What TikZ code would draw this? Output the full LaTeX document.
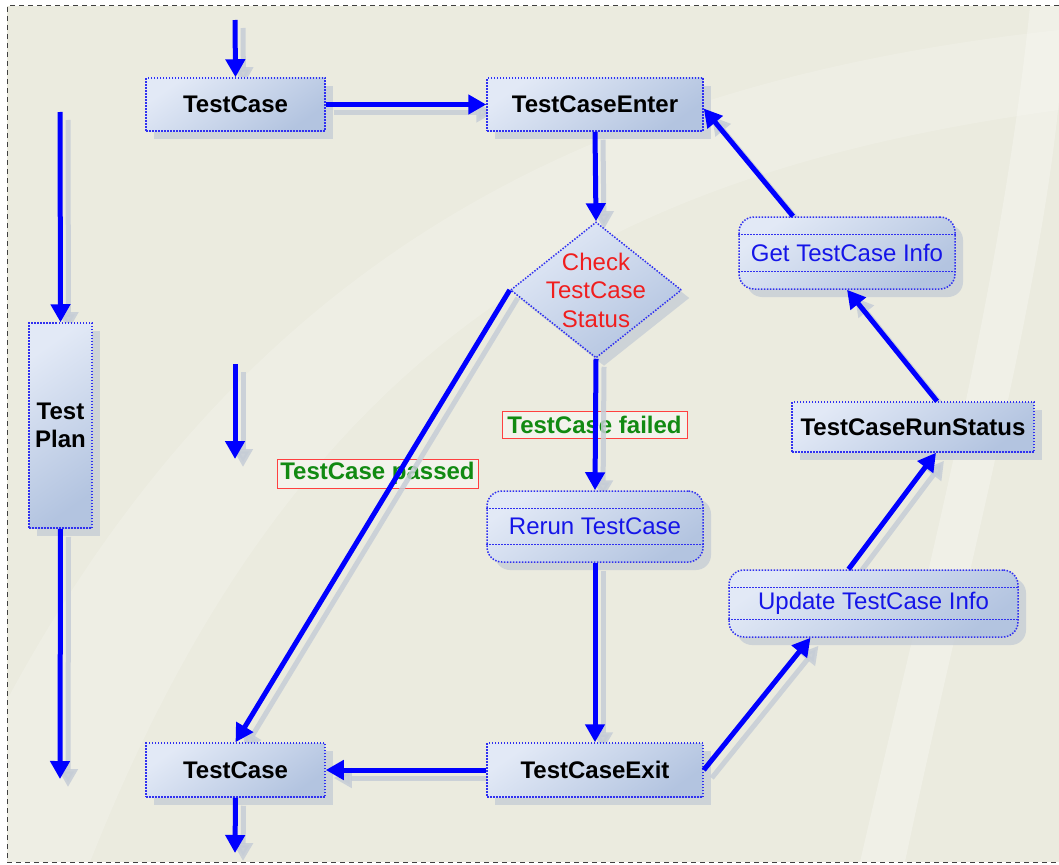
\documentclass[tikz,border=0pt]{standalone}
\usepackage{fontspec}
\setmainfont{Liberation Sans}
\usetikzlibrary{arrows.meta,shapes.geometric,shadows}
\definecolor{bgc}{HTML}{EBEBDF}
\definecolor{nodeA}{HTML}{E2E9F6}
\definecolor{nodeB}{HTML}{B3C4E0}
\definecolor{shc}{HTML}{C6CDD6}
\definecolor{dotc}{HTML}{3030F0}
\definecolor{txtblue}{HTML}{1515E8}
\definecolor{txtgreen}{HTML}{128A12}
\definecolor{txtred}{HTML}{F01E1E}
\definecolor{arrc}{HTML}{0000FF}
\pgfdeclarelayer{back}
\pgfdeclarelayer{lab}
\pgfdeclarelayer{ash}
\pgfsetlayers{back,lab,ash,main}
\tikzset{
  nodebase/.style={draw=dotc, line width=1.5pt, dash pattern=on 1.5pt off 1.5pt,
    shading=axis, top color=nodeA, bottom color=nodeB, shading angle=35,
    general shadow={fill=shc, opacity=0.8, shadow xshift=8pt, shadow yshift=-8pt},
    inner sep=0pt, font=\fontsize{24}{28}\selectfont},
  box/.style={nodebase, rectangle, font=\fontsize{24}{28}\selectfont\bfseries, text=black},
  rbox/.style={nodebase, rectangle, rounded corners=15pt, text=txtblue},
  dia/.style={nodebase, diamond},
  diatext/.style={text=txtred, align=center, font=\fontsize{24}{28.5}\selectfont, inner sep=0pt},
  innerline/.style={draw=dotc, line width=1.3pt, dash pattern=on 1.5pt off 1.5pt},
  lbl/.style={draw=red!75, line width=1pt, fill=bgc!60!white, text=txtgreen,
    font=\fontsize{24}{26}\selectfont\bfseries, inner sep=0pt},
  arr/.style={draw=arrc, line width=5pt, -{Triangle[length=18pt,width=19pt]}},
  arrsh/.style={draw=shc, line width=5pt, opacity=0.85, -{Triangle[length=18pt,width=19pt]}},
}
\begin{document}
\begin{tikzpicture}[x=1pt,y=-1pt]
\useasboundingbox (0,0) rectangle (1059,864);
\begin{pgfonlayer}{back}
  \fill[bgc] (7,6) rectangle (1059,862);
  \fill[white, opacity=0.18] (7,700) .. controls (250,250) and (600,80) .. (1059,30) -- (1059,110) .. controls (620,170) and (300,330) .. (90,862) -- (7,862) -- cycle;
  \fill[white, opacity=0.25] (1030,6) .. controls (1000,300) and (920,600) .. (860,862) -- (905,862) .. controls (960,600) and (1040,300) .. (1059,100) -- (1059,6) -- cycle;
  \draw[black!75, line width=1pt, dash pattern=on 5pt off 4pt] (1059,6) -- (7,6) -- (7,862) -- (1059,862);
\end{pgfonlayer}

% nodes
\node[box, minimum width=179pt, minimum height=53pt] (tc1) at (235.5,104.5) {TestCase};
\node[box, minimum width=216pt, minimum height=53pt] (en) at (595,104.5) {TestCaseEnter};
\node[dia, minimum width=171pt, minimum height=136pt] (chk) at (596,290) {};
\node[diatext] (chkt) at (596,290) {Check\\TestCase\\Status};
\node[rbox, minimum width=216pt, minimum height=72pt] (gi) at (847,253) {Get TestCase Info};
\node[box, minimum width=63pt, minimum height=205pt, align=center] (tp) at (60.5,425.5) {Test\\Plan};
\node[box, minimum width=242pt, minimum height=50pt] (rs) at (913,427) {TestCaseRunStatus};
\node[rbox, minimum width=216pt, minimum height=71pt] (rr) at (595,526.5) {Rerun TestCase};
\node[rbox, minimum width=289pt, minimum height=67pt] (up) at (873.5,603.5) {Update TestCase Info};
\node[box, minimum width=179pt, minimum height=54pt] (tc2) at (235.5,770) {TestCase};
\node[box, minimum width=216pt, minimum height=54pt] (ex) at (595,770) {TestCaseExit};

\foreach \n in {gi,rr,up}{
  \draw[innerline] ([yshift=-18pt]\n.north west) -- ([yshift=-18pt]\n.north east);
  \draw[innerline] ([yshift=18pt]\n.south west) -- ([yshift=18pt]\n.south east);
}

% labels
\begin{pgfonlayer}{lab}
\node[lbl, minimum width=185pt, minimum height=27pt] (lf) at (594.5,424.5) {TestCase failed};
\node[lbl, minimum width=201pt, minimum height=29pt] (lp) at (377.5,473.5) {TestCase passed};
\end{pgfonlayer}

% free ends and attachment points
\coordinate (s1) at (235,20);
\coordinate (s2) at (235,853);
\coordinate (p0) at (60,112);
\coordinate (p1) at (60,779);
\coordinate (q0) at (235,364);
\coordinate (q1) at (235,459);
\coordinate (upS) at ([xshift=-63pt]up.south);
\coordinate (upN) at ([xshift=-25pt]up.north);
\coordinate (rsS) at ([xshift=23pt]rs.south);
\coordinate (rsN) at ([xshift=24pt]rs.north);
\coordinate (giN) at ([xshift=-54pt]gi.north);
\coordinate (enE) at ([yshift=-4pt]en.east);

% arrow shadows
\begin{pgfonlayer}{ash}
\foreach \a/\b in {s1/tc1.north, tc1.east/en.west, en.south/chk.north, chk.south/rr.north,
  rr.south/ex.north, ex.west/tc2.east, tc2.south/s2, p0/tp.north, tp.south/p1, q0/q1,
  chk.west/tc2.north, ex.east/upS, upN/rsS, rsN/gi.south, giN/enE}{
  \draw[arrsh, transform canvas={shift={(8pt,-8pt)}}] (\a) -- (\b);
}
\end{pgfonlayer}

% arrows
\draw[arr] (s1) -- (tc1.north);
\draw[arr] (tc1.east) -- (en.west);
\draw[arr] (en.south) -- (chk.north);
\draw[arr] (chk.south) -- (rr.north);
\draw[arr] (rr.south) -- (ex.north);
\draw[arr] (ex.west) -- (tc2.east);
\draw[arr] (tc2.south) -- (s2);
\draw[arr] (p0) -- (tp.north);
\draw[arr] (tp.south) -- (p1);
\draw[arr] (q0) -- (q1);
\draw[arr] (chk.west) -- (tc2.north);
\draw[arr] (ex.east) -- (upS);
\draw[arr] (upN) -- (rsS);
\draw[arr] (rsN) -- (gi.south);
\draw[arr] (giN) -- (enE);
\end{tikzpicture}
\end{document}
